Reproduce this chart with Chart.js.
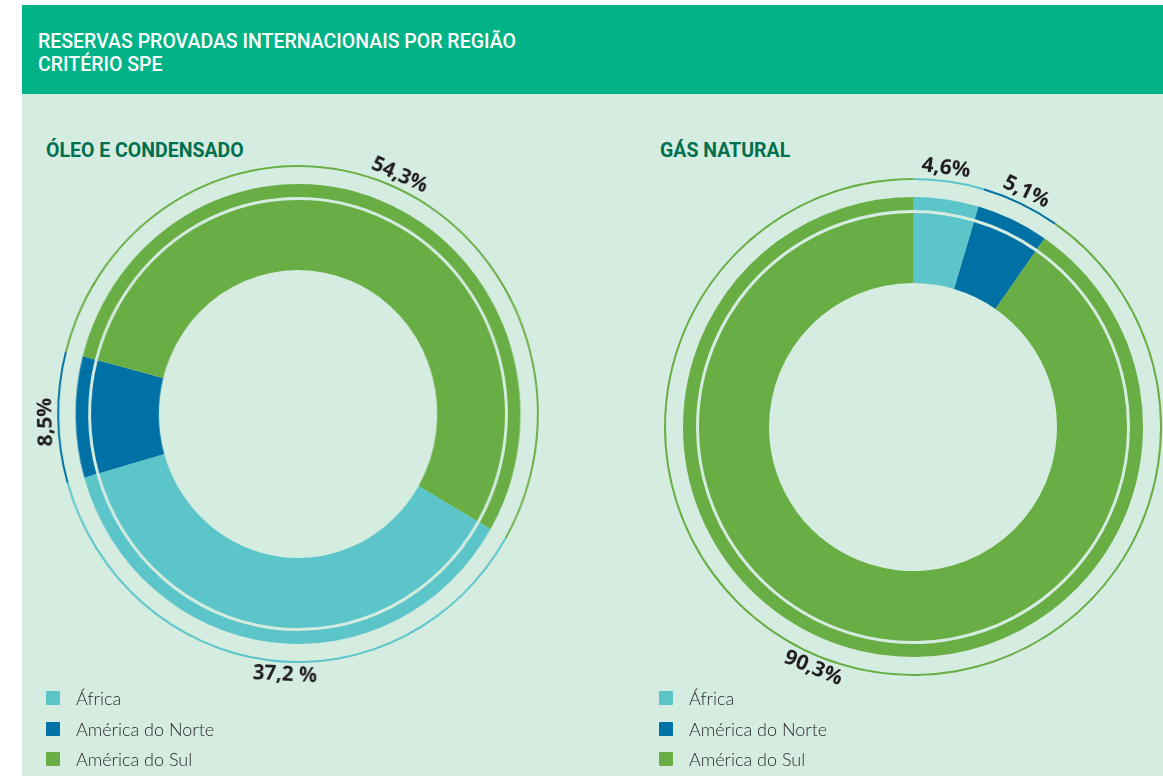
<!DOCTYPE html>
<html>
<head>
<meta charset="utf-8">
<script src="https://cdn.jsdelivr.net/npm/chart.js"></script>
<style>
html,body{margin:0;padding:0;width:1163px;height:776px;overflow:hidden;background:#fff;}
#header{position:absolute;left:22px;top:5px;width:1141px;height:89px;background:#00b386;}
#header div{position:absolute;left:16px;top:26px;color:#fff;font:500 19.5px Roboto;line-height:22.5px;}
#panel{position:absolute;left:22px;top:94px;width:1141px;height:682px;background:#d5ece0;}
.sub{position:absolute;top:139px;font:bold 19.5px Roboto;color:#00704f;}
canvas{position:absolute;}
#oleo{left:18px;top:134px;transform:scaleX(0.967);}
#gas{left:633px;top:147px;}
.legend{position:absolute;top:683px;font:300 18px Lato;color:#2b2b2b;}
.legend div{display:flex;align-items:center;height:30.5px;}
.legend span{display:inline-block;width:14px;height:14px;margin-right:16px;border-radius:1px;}
</style>
</head>
<body>
<div id="header"><div>RESERVAS PROVADAS INTERNACIONAIS POR REGIÃO<br>CRITÉRIO SPE</div></div>
<div id="panel"></div>
<div class="sub" style="left:46px">ÓLEO E CONDENSADO</div>
<div class="sub" style="left:660px">GÁS NATURAL</div>
<canvas id="oleo" width="560" height="560"></canvas>
<canvas id="gas" width="560" height="560"></canvas>
<div class="legend" id="legOleo" style="left:46px"></div>
<div class="legend" id="legGas" style="left:659px"></div>
<script>
// regioes e cores
var regioes = ["África", "América do Norte", "América do Sul"];
var cores = ["#5bc5c9", "#0071a4", "#69ae44"];

// oleo e condensado (%)
var oleoValores = [37.2, 8.5, 54.3];
var oleoRotulos = ["37,2 %", "8,5%", "54,3%"];

// gas natural (%)
var gasValores = [4.6, 5.1, 90.3];
var gasRotulos = ["4,6%", "5,1%", "90,3%"];

// percent labels, rotated along the outer ring
var rotulosPlugin = {
    id: "rotulos",
    afterDatasetsDraw: function(chart, args, opts){
        var ctx = chart.ctx;
        var meta = chart.getDatasetMeta(0);
        meta.data.forEach(function(arc, i){
            var a = (arc.startAngle + arc.endAngle) / 2 + (opts.ajuste[i] || 0) * Math.PI / 180;
            var r = arc.outerRadius + 12;
            var x = arc.x + Math.cos(a) * r;
            var y = arc.y + Math.sin(a) * r;
            var rot = a + Math.PI / 2;
            if (Math.sin(a) > 0.2) rot -= Math.PI;
            ctx.save();
            ctx.translate(x, y);
            ctx.rotate(rot);
            ctx.font = "bold 21px 'Open Sans'";
            ctx.fillStyle = "#231f20";
            ctx.textAlign = "center";
            ctx.textBaseline = "middle";
            ctx.fillText(opts.textos[i], 0, 0);
            ctx.restore();
        });
    }
};

function anel(valores, peso, cor){
    return {data: valores, weight: peso, backgroundColor: cor,
        borderWidth: 0, hoverBorderWidth: 0, hoverOffset: 0, offset: 0};
}

function rosca(id, valores, textos, inicio, ajuste){
    var vazio = valores.map(function(){ return "rgba(0,0,0,0)"; });
    new Chart(id, {
        type: "doughnut",
        data: {
            labels: regioes,
            datasets: [
                anel(valores, 2, cores),   // thin outer line
                anel(valores, 17, vazio),
                anel(valores, 13, cores),  // band
                anel(valores, 3, vazio),
                anel(valores, 70, cores)   // main ring
            ]
        },
        options: {
            responsive: false,
            animation: false,
            events: [],
            rotation: inicio,
            cutout: 144,
            spacing: 0,
            layout: {padding: 31},
            plugins: {legend: {display: false}, tooltip: {enabled: false},
                rotulos: {textos: textos, ajuste: ajuste}}
        },
        plugins: [rotulosPlugin]
    });
}

function legenda(id){
    var el = document.getElementById(id);
    regioes.forEach(function(nome, i){
        var d = document.createElement("div");
        d.innerHTML = '<span style="background:' + cores[i] + '"></span>' + nome;
        el.appendChild(d);
    });
}

rosca("oleo", oleoValores, oleoRotulos, 120, [-4, -1, 1.5]);
rosca("gas", gasValores, gasRotulos, 0, [-1, 0, 5]);
legenda("legOleo");
legenda("legGas");
</script>
</body>
</html>
